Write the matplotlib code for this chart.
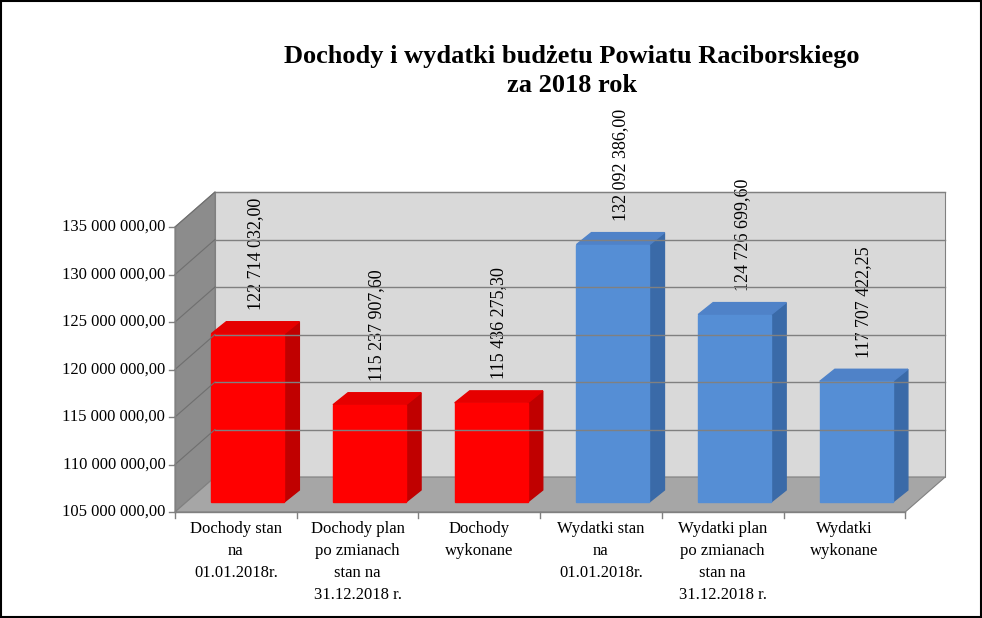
"""Dochody i wydatki budzetu - pseudo-3D bar chart."""

import matplotlib as mpl
import matplotlib.pyplot as plt
from matplotlib.patches import Polygon, Rectangle

mpl.rcParams.update({
    "font.family": "serif",
    "font.serif": ["Liberation Serif", "DejaVu Serif"],
})

# ── Data ─────────────────────────────────────────────────────────────
categories = ["Dochody stan\nna\n01.01.2018r.",
              "Dochody plan\npo zmianach\nstan na\n31.12.2018 r.",
              "Dochody\nwykonane",
              "Wydatki stan\nna\n01.01.2018r.",
              "Wydatki plan\npo zmianach\nstan na\n31.12.2018 r.",
              "Wydatki\nwykonane"]
values = [122714032.00, 115237907.60, 115436275.30,
          132092386.00, 124726699.60, 117707422.25]
value_labels = ["122 714 032,00", "115 237 907,60", "115 436 275,30",
                "132 092 386,00", "124 726 699,60", "117 707 422,25"]
y_ticks = [105, 110, 115, 120, 125, 130, 135]  # millions
y_tick_labels = [f"{t} 000 000,00" for t in y_ticks]

# ── Geometry (data units: category index / millions) ────────────────
PX_X, PX_Y = 121.7, 9.5
WDX, WDY = 40 / PX_X, 35 / PX_Y      # wall depth
BX, BY = 12 / PX_X, 10 / PX_Y        # bar offset from front
BDX, BDY = 15 / PX_X, 12 / PX_Y      # bar depth
BW = 0.6
YMIN, YMAX = 105, 135

fig = plt.figure(figsize=(9.82, 6.18), dpi=100)
ax = fig.add_axes([0, 0, 1, 1])
ax.set_xlim(-0.5 - 175 / PX_X, -0.5 + (982 - 175) / PX_X)
ax.set_ylim(YMIN - (618 - 512) / PX_Y, YMIN + 512 / PX_Y)
ax.axis("off")
fig.patches.append(Rectangle((0.001, 0.001), 0.998, 0.997, transform=fig.transFigure,
                             fill=False, edgecolor="black", linewidth=1.5))

x0, x1 = -0.5, len(categories) - 0.5
# back wall
ax.add_patch(Polygon([(x0 + WDX, YMIN + WDY), (x1 + WDX, YMIN + WDY),
                      (x1 + WDX, YMAX + WDY), (x0 + WDX, YMAX + WDY)],
                     facecolor="#d9d9d9", edgecolor="#808080", linewidth=0.8))
# left wall
ax.add_patch(Polygon([(x0, YMIN), (x0, YMAX), (x0 + WDX, YMAX + WDY), (x0 + WDX, YMIN + WDY)],
                     facecolor="#8c8c8c", edgecolor="#808080", linewidth=0.8))
# floor
ax.add_patch(Polygon([(x0, YMIN), (x1, YMIN), (x1 + WDX, YMIN + WDY), (x0 + WDX, YMIN + WDY)],
                     facecolor="#a6a6a6", edgecolor="#808080", linewidth=0.8))
for t in y_ticks[1:]:
    ax.plot([x0 + WDX, x1 + WDX], [t + WDY, t + WDY], color="#808080", linewidth=1)
    ax.plot([x0, x0 + WDX], [t, t + WDY], color="#6f6f6f", linewidth=0.8)

# axes lines and ticks
ax.plot([x0, x0], [YMIN, YMAX], color="#808080", linewidth=1)
ax.plot([x0, x1], [YMIN, YMIN], color="#808080", linewidth=1)
for t, lab in zip(y_ticks, y_tick_labels):
    ax.plot([x0 - 0.05, x0], [t, t], color="#808080", linewidth=1)
    ax.text(x0 - 0.08, t, lab, ha="right", va="center", fontsize=12)
for i in range(len(categories) + 1):
    ax.plot([x0 + i, x0 + i], [YMIN, YMIN - 0.6], color="#808080", linewidth=1)
for i, cat in enumerate(categories):
    ax.text(i, YMIN - 0.9, cat, ha="center", va="top", fontsize=12, linespacing=1.5)

# bars
for i, v in enumerate(values):
    vm = v / 1e6
    front, side, top = (("#ff0000", "#c00000", "#e60000") if i < 3
                        else ("#558ed5", "#3a6aa8", "#4f82c8"))
    xl, xr = i - BW / 2 + BX, i + BW / 2 + BX
    yb, yt = YMIN + BY, vm + BY
    ax.add_patch(Polygon([(xr, yb), (xr + BDX, yb + BDY), (xr + BDX, yt + BDY), (xr, yt)],
                         facecolor=side, edgecolor=side))
    ax.add_patch(Polygon([(xl, yt), (xr, yt), (xr + BDX, yt + BDY), (xl + BDX, yt + BDY)],
                         facecolor=top, edgecolor=top))
    ax.add_patch(Rectangle((xl, yb), BW, yt - yb, facecolor=front, edgecolor=front))
    ax.text(i + BX + BDX / 2, yt + BDY + 1.2, value_labels[i], rotation=90,
            ha="center", va="bottom", fontsize=13, zorder=1)

ax.text(-0.5 + (572 - 175) / PX_X, YMIN + (512 - 71) / PX_Y,
        "Dochody i wydatki budżetu Powiatu Raciborskiego\nza 2018 rok",
        ha="center", va="center", fontsize=19, fontweight="bold", linespacing=1.3,
        zorder=3)

fig.savefig("out.png", dpi=100)
